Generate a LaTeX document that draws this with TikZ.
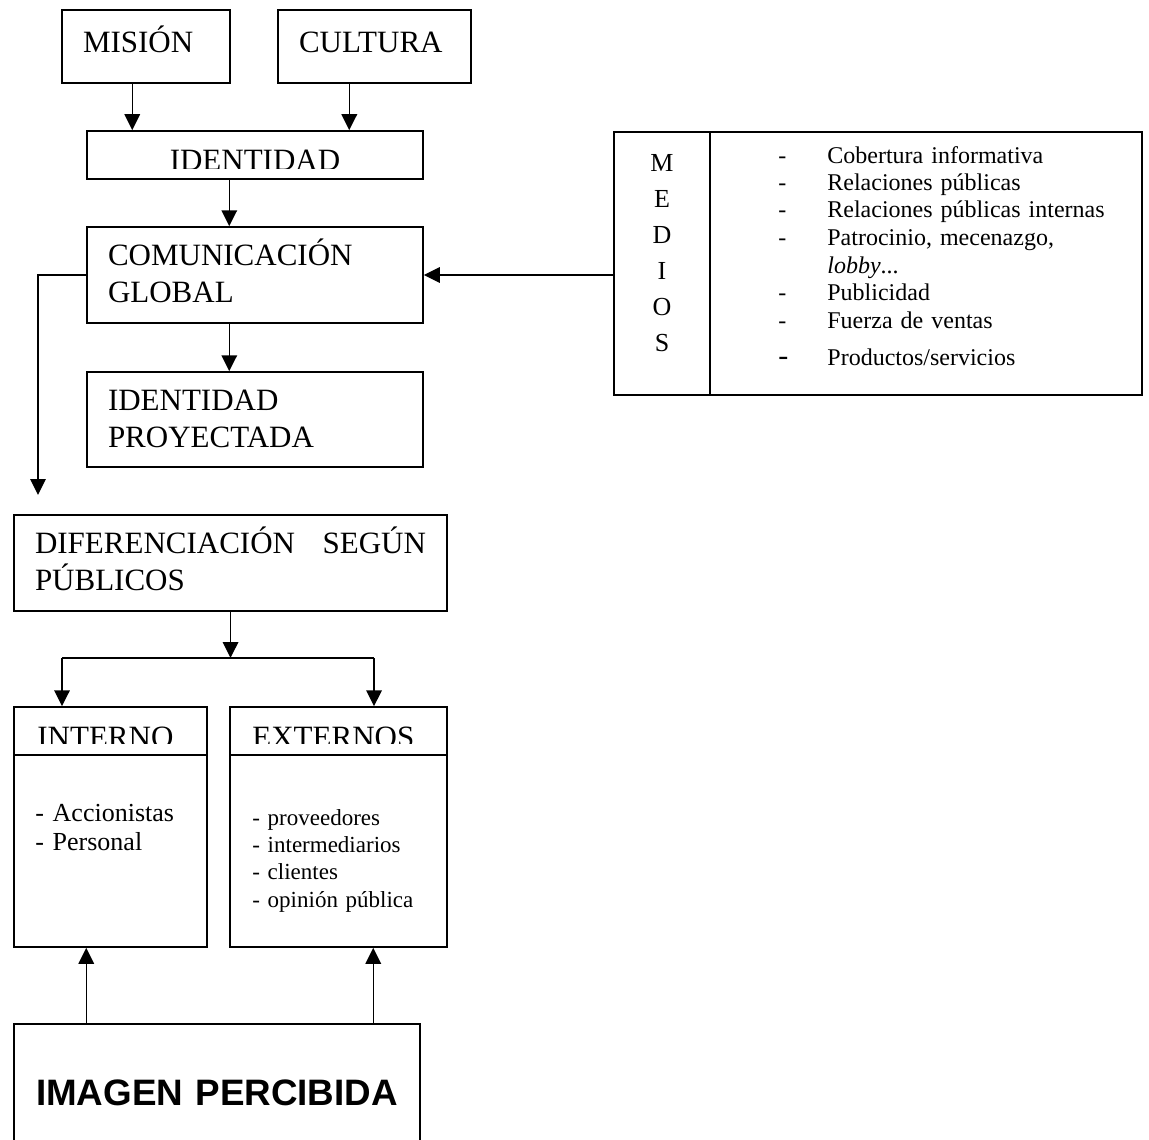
\documentclass[tikz,border=0pt]{standalone}
\usepackage{fontspec}
\setmainfont{Liberation Serif}
\newfontfamily\arialfont{Liberation Sans}
\usetikzlibrary{arrows.meta}
\newcommand{\grande}{\fontsize{15.5}{18.5}\selectfont}
\newcommand{\guion}{\makebox[24.5pt][l]{-}}

\begin{document}
\begin{tikzpicture}[
    x=0.5pt, y=-0.5pt,
    caja/.style={draw, line width=0.75pt, inner xsep=10.5pt, inner ysep=0pt,
      align=left, font=\grande, text height=10.25pt},
    marco/.style={draw, line width=0.75pt, inner sep=0pt},
    texto/.style={inner sep=0pt, align=left},
    flecha/.style={-{Triangle[length=8pt,width=7.8pt]}, line width=0.75pt},
    linea/.style={line width=0.75pt},
  ]
    \useasboundingbox (0,0) rectangle (1149,1139);

    \node[caja, text width=63pt, minimum height=36.5pt, text depth=3.75pt] (mision) at (146,46.5) {MISIÓN};
    \node[caja, text width=75.5pt, minimum height=36.5pt, text depth=3.75pt] (cultura) at (374.5,46.5) {CULTURA};
    \node[marco, minimum width=168pt, minimum height=24pt] (identidad) at (255,155) {};
    \begin{scope}
      \clip (identidad.north west) rectangle ([yshift=5.75pt]identidad.south east);
      \node[texto, font=\grande, anchor=base] (identxt) at (255,170.5) {IDENTIDAD};
    \end{scope}
    \node[caja, text width=147pt, minimum height=48pt, text depth=20.25pt] (com) at (255,275) {COMUNICACIÓN\\GLOBAL};
    \node[caja, text width=147pt, minimum height=47.5pt, text depth=19.75pt] (idproy) at (255,419.5) {IDENTIDAD\\PROYECTADA};

    \node[marco, minimum width=48pt, minimum height=131.5pt] (medletras) at (662,263.5) {};
    \node[marco, minimum width=216pt, minimum height=131.5pt] (medlista) at (926,263.5) {};
    \node[texto, align=center, text width=20pt, font=\fontsize{13}{18}\selectfont,
      text height=8.8pt, text depth=90pt] (medtxt) at (662,253) {M\\E\\D\\I\\O\\S};
    \node[texto, anchor=west, text width=180pt, font=\fontsize{12}{13.75}\selectfont,
      text height=8pt, text depth=101pt] (listatxt) at (778,256) {%
      \guion Cobertura informativa\\
      \guion Relaciones públicas\\
      \guion Relaciones públicas internas\\
      \guion Patrocinio, mecenazgo,\\
      \hspace*{24.5pt}\textit{lobby}...\\
      \guion Publicidad\\
      \guion Fuerza de ventas\\[4.75pt]
      \makebox[24.5pt][l]{\fontsize{15}{15}\selectfont -}Productos/servicios};

    \node[caja, text width=195.5pt, minimum height=48pt, text depth=20.25pt] (diff) at (230.5,563) {DIFERENCIACIÓN\hfill SEGÚN\\PÚBLICOS};

    \node[marco, minimum width=96.5pt, minimum height=24pt] (intcab) at (110.5,731) {};
    \node[marco, minimum width=96.5pt, minimum height=96pt] (intlist) at (110.5,851) {};
    \node[marco, minimum width=108.5pt, minimum height=24pt] (extcab) at (338.5,731) {};
    \node[marco, minimum width=108.5pt, minimum height=96pt] (extlist) at (338.5,851) {};
    \begin{scope}
      \clip (intcab.north west) rectangle ([yshift=6pt]extcab.south east);
      \node[texto, font=\grande, anchor=base west] (inttxt) at (37,747.5) {INTERNO};
      \node[texto, font=\grande, anchor=base west] (exttxt) at (252,747.5) {EXTERNOS};
    \end{scope}
    \node[texto, anchor=north west, text width=85pt, font=\fontsize{13}{14.65}\selectfont,
      text height=8.6pt] (intlisttxt) at (35,803.5) {- Accionistas\\- Personal};
    \node[texto, anchor=north west, text width=95pt, font=\fontsize{11.5}{13.7}\selectfont,
      text height=7.6pt] (extlisttxt) at (252,809.5) {- proveedores\\- intermediarios\\- clientes\\- opinión pública};

    \node[caja, align=center, text width=182pt, minimum height=68pt, text height=13.1pt, text depth=0pt,
      font=\arialfont\bfseries\fontsize{18.4}{21}\selectfont] (imagen) at (217,1092) {IMAGEN PERCIBIDA};

    \coordinate (bajamis) at ([xshift=35.5pt]mision.south west);
    \coordinate (bajacul) at ([xshift=36pt]cultura.south west);
    \coordinate (bajaid) at ([xshift=71.5pt]identidad.south west);
    \coordinate (bajacom) at ([xshift=71.5pt]com.south west);
    \coordinate (bajada) at (38,495);
    \coordinate (reparto) at (diff.south |- 0,658);
    \coordinate (ramaint) at (62,658);
    \coordinate (ramaext) at (374,658);
    \coordinate (subeint) at ([xshift=36.5pt]imagen.north west);
    \coordinate (subeext) at ([xshift=180pt]imagen.north west);

    \draw[flecha] (bajamis) -- (bajamis |- identidad.north);
    \draw[flecha] (bajacul) -- (bajacul |- identidad.north);
    \draw[flecha] (bajaid) -- (bajaid |- com.north);
    \draw[flecha] (bajacom) -- (bajacom |- idproy.north);
    \draw[flecha] (medletras.west |- com.east) -- (com.east);
    \draw[flecha] (com.west) -| (bajada);
    \draw[flecha] (diff.south) -- (reparto);
    \draw[linea] (ramaint) -- (ramaext);
    \draw[flecha] (ramaint) -- (ramaint |- intcab.north);
    \draw[flecha] (ramaext) -- (ramaext |- extcab.north);
    \draw[flecha] (subeint) -- (subeint |- intlist.south);
    \draw[flecha] (subeext) -- (subeext |- extlist.south);
  \end{tikzpicture}
\end{document}
